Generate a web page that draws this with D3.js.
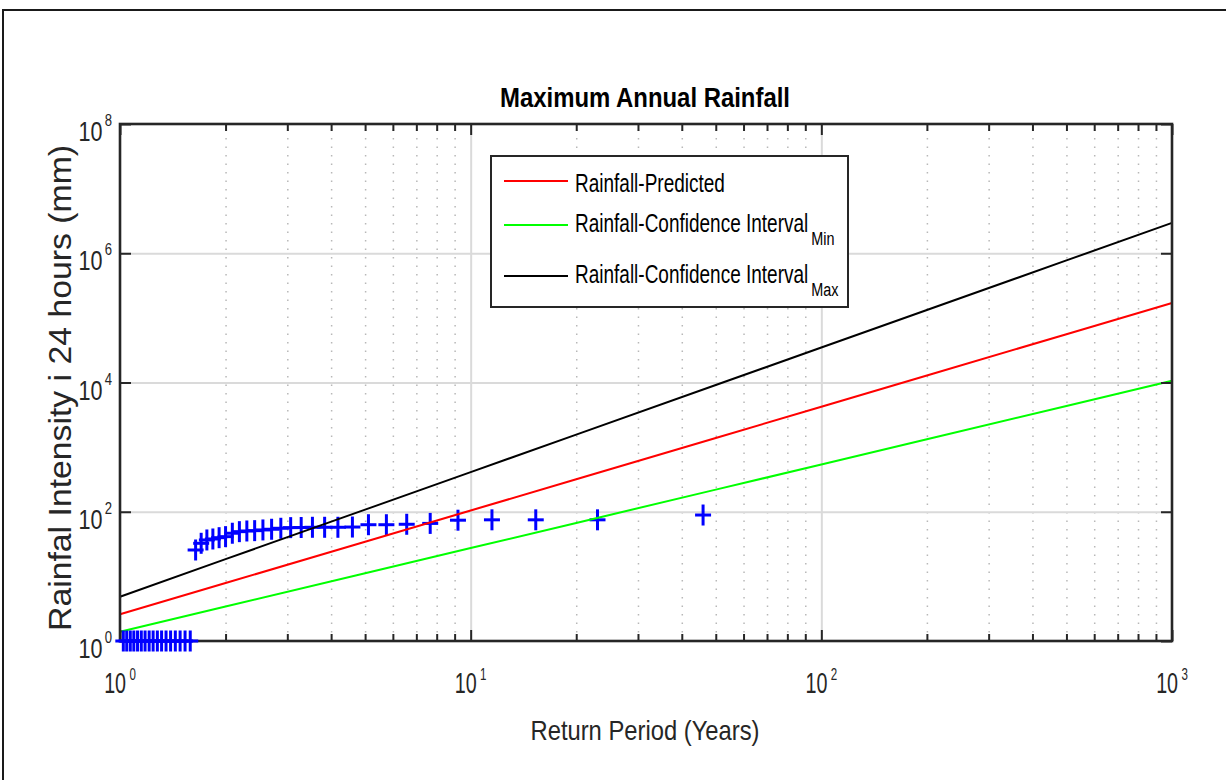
<!DOCTYPE html>
<html><head><meta charset="utf-8">
<script src="https://cdn.jsdelivr.net/npm/d3@7"></script>
<style>body{margin:0;background:#fff} svg{display:block} text{font-family:"Liberation Sans",Arial,sans-serif}</style>
</head><body><svg id="c" width="1226" height="780"></svg>
<script>
// ---- data ----
const returnPeriods = [46.000, 23.000, 15.333, 11.500, 9.200, 7.667, 6.571, 5.750, 5.111, 4.600,
  4.182, 3.833, 3.538, 3.286, 3.067, 2.875, 2.706, 2.556, 2.421, 2.300,
  2.190, 2.091, 2.000, 1.917, 1.840, 1.769, 1.704, 1.643, 1.586, 1.533,
  1.484, 1.438, 1.394, 1.353, 1.314, 1.278, 1.243, 1.211, 1.179, 1.150,
  1.122, 1.095, 1.070, 1.045, 1.022];
const observedRainfall = [89, 75, 75, 75, 74, 66, 64, 63, 63, 58,
  57.5, 57.5, 57.5, 57, 56.8, 55.5, 53.6, 52.3, 51, 50.4,
  49.2, 46.5, 41.2, 39.7, 37.9, 36.6, 32.5, 25.6, 1, 1,
  1, 1, 1, 1, 1, 1, 1, 1, 1, 1,
  1, 1, 1, 1, 1];
const lineT = [1, 2, 5, 10, 20, 50, 100, 200, 500, 1000];
const predicted = [2.59, 7.88, 34.3, 104.5, 318, 1385, 4217, 12830, 55850, 170200];
const ciMin = [1.39, 3.42, 11.18, 27.4, 67.2, 219.8, 539.5, 1323, 4325, 10620];
const ciMax = [4.85, 18.47, 108, 411, 1564, 9141, 34830, 132400, 774500, 2950000];
const xTickExps = [0, 1, 2, 3];
const yTickExps = [0, 2, 4, 6, 8];
const legendLabels = ["Rainfall-Predicted", "Rainfall-Confidence Interval", "Rainfall-Confidence Interval"];
const legendSubs = ["", "Min", "Max"];
const seriesColors = ["#ff0000", "#00ff00", "#000000"];

// ---- layout ----
const L = 120, R = 1172, T = 124, B = 641;
const svg = d3.select("#c");
const x = d3.scaleLog().domain([1, 1000]).range([L, R]);
const y = d3.scaleLog().domain([1, 1e8]).range([B, T]);
const axisCol = "#262626";

// outer frame
svg.append("rect").attr("x", 3).attr("y", 10).attr("width", 1300).attr("height", 900)
  .attr("fill", "#fff").attr("stroke", "#1a1a1a").attr("stroke-width", 2);
svg.append("rect").attr("x", L).attr("y", T).attr("width", R - L).attr("height", B - T).attr("fill", "#fff");

// minor x values
const minorX = [];
for (let d = 1; d < 1000; d *= 10) for (let k = 2; k <= 9; k++) minorX.push(d * k);
const majorX = xTickExps.map(e => Math.pow(10, e));
const majorY = yTickExps.map(e => Math.pow(10, e));

// grid
const grid = svg.append("g");
grid.append("g").attr("transform", `translate(0,${B})`)
  .call(d3.axisBottom(x).tickValues(minorX).tickSize(-(B - T)).tickFormat(""))
  .call(g => g.select(".domain").remove())
  .selectAll("line").attr("stroke", "#b8b8b8").attr("stroke-width", 1.5).attr("stroke-dasharray", "1.5,7");
grid.append("g").attr("transform", `translate(0,${B})`)
  .call(d3.axisBottom(x).tickValues(majorX.slice(1, -1)).tickSize(-(B - T)).tickFormat(""))
  .call(g => g.select(".domain").remove())
  .selectAll("line").attr("stroke", "#dadada").attr("stroke-width", 2);
grid.append("g").attr("transform", `translate(${L},0)`)
  .call(d3.axisLeft(y).tickValues(majorY.slice(1, -1)).tickSize(-(B - T) * 0 - (R - L)).tickFormat(""))
  .call(g => g.select(".domain").remove())
  .selectAll("line").attr("stroke", "#dadada").attr("stroke-width", 2);

// observed crosses
const pts = returnPeriods.map((t, i) => ({ t, v: observedRainfall[i] }));
function drawCross(g, p) {
  const cx = x(p.t), cy = y(p.v);
  g.append("line").attr("x1", cx - 8).attr("x2", cx + 8).attr("y1", cy).attr("y2", cy);
  g.append("line").attr("x1", cx).attr("x2", cx).attr("y1", cy - 10.5).attr("y2", cy + 10.5);
}
const crossHi = svg.append("g").attr("stroke", "#0000ff").attr("stroke-width", 3);
pts.filter(p => p.v > 1).forEach(p => drawCross(crossHi, p));

// lines
const lineGen = d3.line().x(d => x(d[0])).y(d => y(d[1]));
[predicted, ciMin, ciMax].forEach((s, i) => {
  svg.append("path").datum(lineT.map((t, j) => [t, s[j]]))
    .attr("d", lineGen).attr("fill", "none").attr("stroke", seriesColors[i]).attr("stroke-width", 2);
});

// axes ticks (inward)
function styleAxis(g) { g.select(".domain").remove(); g.selectAll("line").attr("stroke", axisCol).attr("stroke-width", 2); }
svg.append("g").attr("transform", `translate(0,${B})`).call(d3.axisBottom(x).tickValues(minorX).tickSize(-7).tickFormat("")).call(styleAxis);
svg.append("g").attr("transform", `translate(0,${B})`).call(d3.axisBottom(x).tickValues(majorX).tickSize(-11).tickFormat("")).call(styleAxis);
svg.append("g").attr("transform", `translate(0,${T})`).call(d3.axisTop(x).tickValues(minorX).tickSize(-7).tickFormat("")).call(styleAxis);
svg.append("g").attr("transform", `translate(0,${T})`).call(d3.axisTop(x).tickValues(majorX).tickSize(-11).tickFormat("")).call(styleAxis);
svg.append("g").attr("transform", `translate(${L},0)`).call(d3.axisLeft(y).tickValues(majorY).tickSize(-11).tickFormat("")).call(styleAxis);
svg.append("g").attr("transform", `translate(${R},0)`).call(d3.axisRight(y).tickValues(majorY).tickSize(-11).tickFormat("")).call(styleAxis);
svg.append("rect").attr("x", L).attr("y", T).attr("width", R - L).attr("height", B - T)
  .attr("fill", "none").attr("stroke", axisCol).attr("stroke-width", 2.6);

// crosses lying on the bottom axis are drawn over it
const crossLo = svg.append("g").attr("stroke", "#0000ff").attr("stroke-width", 3);
pts.filter(p => p.v <= 1).forEach(p => drawCross(crossLo, p));

// tick labels
xTickExps.forEach(e => {
  const g = svg.append("g").attr("transform", `translate(${x(Math.pow(10, e))},693) scale(0.68,1)`);
  const t = g.append("text").attr("text-anchor", "middle").attr("fill", axisCol).attr("font-size", 29);
  t.append("tspan").text("10");
  t.append("tspan").attr("font-size", 17).attr("dx", 5).attr("dy", -13).text(e);
});
yTickExps.forEach(e => {
  const g = svg.append("g").attr("transform", `translate(112,${y(Math.pow(10, e)) + 17}) scale(0.77,1)`);
  const t = g.append("text").attr("text-anchor", "end").attr("fill", axisCol).attr("font-size", 28);
  t.append("tspan").text("10");
  t.append("tspan").attr("font-size", 17).attr("dx", 3).attr("dy", -15).text(e);
});

// title & axis labels
svg.append("text").attr("x", 645).attr("y", 107).attr("text-anchor", "middle")
  .attr("font-size", 27).attr("font-weight", "bold").attr("fill", "#000")
  .attr("textLength", 290).attr("lengthAdjust", "spacingAndGlyphs").text("Maximum Annual Rainfall");
svg.append("text").attr("x", 645).attr("y", 740).attr("text-anchor", "middle")
  .attr("font-size", 28).attr("fill", axisCol)
  .attr("textLength", 229).attr("lengthAdjust", "spacingAndGlyphs").text("Return Period (Years)");
svg.append("text").attr("transform", "translate(71,388) rotate(-90)").attr("text-anchor", "middle")
  .attr("font-size", 31).attr("fill", axisCol)
  .attr("textLength", 486).attr("lengthAdjust", "spacingAndGlyphs").text("Rainfal Intensity i 24 hours (mm)");

// legend
const lg = svg.append("g");
lg.append("rect").attr("x", 491).attr("y", 156).attr("width", 357).attr("height", 151)
  .attr("fill", "#fff").attr("stroke", axisCol).attr("stroke-width", 2);
const lineYs = [181, 225, 276];
const textYs = [192, 232, 283];
legendLabels.forEach((lab, i) => {
  lg.append("line").attr("x1", 504).attr("x2", 568).attr("y1", lineYs[i]).attr("y2", lineYs[i])
    .attr("stroke", seriesColors[i]).attr("stroke-width", 2);
  const g = lg.append("g").attr("transform", `translate(575,${textYs[i]}) scale(0.76,1)`);
  const t = g.append("text").attr("font-size", 25).attr("fill", "#000");
  t.append("tspan").text(lab);
  if (legendSubs[i]) t.append("tspan").attr("font-size", 19).attr("dx", 4).attr("dy", 13).text(legendSubs[i]);
});
</script></body></html>
